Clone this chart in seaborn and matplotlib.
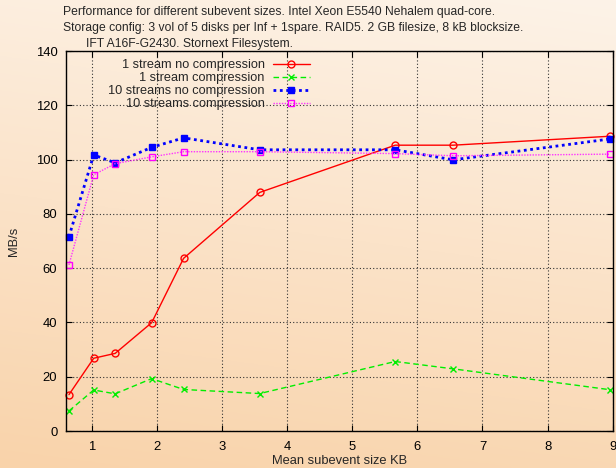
import numpy as np
import pandas as pd
import matplotlib
matplotlib.use("Agg")
import matplotlib.pyplot as plt
import seaborn as sns

# Mean subevent size (KB) for each measurement
subevent_kb = [0.65, 1.03, 1.36, 1.92, 2.41, 3.58, 5.66, 6.55, 8.96]

# Throughput in MB/s
one_stream_nocomp = [13.4, 26.8, 28.6, 39.9, 63.6, 87.9, 105.3, 105.3, 108.6]
one_stream_comp = [7.4, 15.1, 13.7, 19.3, 15.3, 13.8, 25.6, 22.9, 15.2]
ten_streams_nocomp = [71.6, 101.7, 98.8, 104.5, 108.0, 103.6, 103.6, 99.9, 107.6]
ten_streams_comp = [61.2, 94.4, 98.5, 101.0, 102.9, 102.9, 102.2, 101.4, 102.0]

labels = ["1 stream no compression", "1 stream compression",
          "10 streams no compression", "10 streams compression"]

title_lines = [
    "Performance for different subevent sizes. Intel Xeon E5540 Nehalem quad-core.",
    "Storage config: 3 vol of 5 disks per Inf + 1spare. RAID5. 2 GB filesize, 8 kB blocksize.",
    "IFT A16F-G2430. Stornext Filesystem.",
]

sns.set_theme(style="ticks")
plt.rcParams["font.family"] = ["Liberation Sans", "DejaVu Sans"]
plt.rcParams["font.size"] = 9.2

W, H = 616, 468
AX_L, AX_R, AX_T, AX_B = 65.7, 612.7, 51.0, 431.0
fig = plt.figure(figsize=(W / 100, H / 100), dpi=100)

# Warm gradient background across the whole figure
bg = fig.add_axes([0, 0, 1, 1], zorder=-10)
yy, xx = np.mgrid[0:1:200j, 0:1:200j]
t = np.clip(0.85 * yy + 0.15 * (1 - xx), 0, 1)
top = np.array([253, 243, 232]) / 255
bot = np.array([249, 211, 170]) / 255
img = top[None, None, :] * (1 - t[..., None]) + bot[None, None, :] * t[..., None]
bg.imshow(img, aspect="auto", extent=[0, 1, 0, 1], origin="upper")
bg.set_axis_off()

ax = fig.add_axes([AX_L / W, 1 - AX_B / H, (AX_R - AX_L) / W, (AX_B - AX_T) / H])
ax.set_facecolor("none")

df = pd.DataFrame({
    "size": subevent_kb,
    labels[0]: one_stream_nocomp,
    labels[1]: one_stream_comp,
    labels[2]: ten_streams_nocomp,
    labels[3]: ten_streams_comp,
})

styles = [
    dict(color="#ff0000", linestyle="-", linewidth=1.0, marker="o",
         markersize=5, markerfacecolor="none", markeredgecolor="#ff0000",
         markeredgewidth=1.0),
    dict(color="#00ee00", linestyle=(0, (4, 2.5)), linewidth=1.0, marker="x",
         markersize=4.5, markeredgecolor="#00ee00", markeredgewidth=1.0),
    dict(color="#0000ff", linestyle=(0, (1, 1.3)), linewidth=2.0, marker="s",
         markersize=5, markerfacecolor="#0000ff", markeredgecolor="#0000ff",
         markeredgewidth=1.0),
    dict(color="#ff33ff", linestyle=(0, (1, 1)), linewidth=1.0, marker="s",
         markersize=5, markerfacecolor="none", markeredgecolor="#ff00ff",
         markeredgewidth=1.0),
]

for lab, st in zip(labels, styles):
    sns.lineplot(data=df, x="size", y=lab, ax=ax, label=lab, clip_on=False, **st)

ax.set_xlim(0.6, 9)
ax.set_ylim(0, 140)
ax.set_xticks(range(1, 10))
ax.set_yticks(range(0, 141, 20))
ax.set_xlabel("Mean subevent size KB", fontsize=9.3, labelpad=2)
ax.set_ylabel("MB/s", fontsize=9.3)
ax.yaxis.set_label_coords((20 - AX_L) / (AX_R - AX_L), 0.5)

ax.grid(True, color="#333333", linestyle=(0, (1, 2)), linewidth=0.8)
ax.tick_params(direction="in", length=4, width=0.8, top=True, right=True,
               labelsize=9.4, colors="black")
ax.tick_params(axis="y", pad=6)
ax.tick_params(axis="x", pad=7)
for sp in ax.spines.values():
    sp.set_color("black")
    sp.set_linewidth(1.0)

leg = ax.legend(loc="upper left", markerfirst=False,
                frameon=False, fontsize=9.2, handlelength=2.9, handletextpad=0.6,
                labelspacing=0.08, borderaxespad=0.0, borderpad=0.0)
leg.set_bbox_to_anchor((0.078, 1.0 - 8.0 / (AX_B - AX_T)), transform=ax.transAxes)

# Three-line heading above the plot
fig.text(63 / W, 1 - 12 / H, title_lines[0], fontsize=8.75, va="center", ha="left")
fig.text(63 / W, 1 - 28.5 / H, title_lines[1], fontsize=8.75, va="center", ha="left")
fig.text(86 / W, 1 - 44 / H, title_lines[2], fontsize=8.75, va="center", ha="left")

fig.savefig("out.png", dpi=100)
